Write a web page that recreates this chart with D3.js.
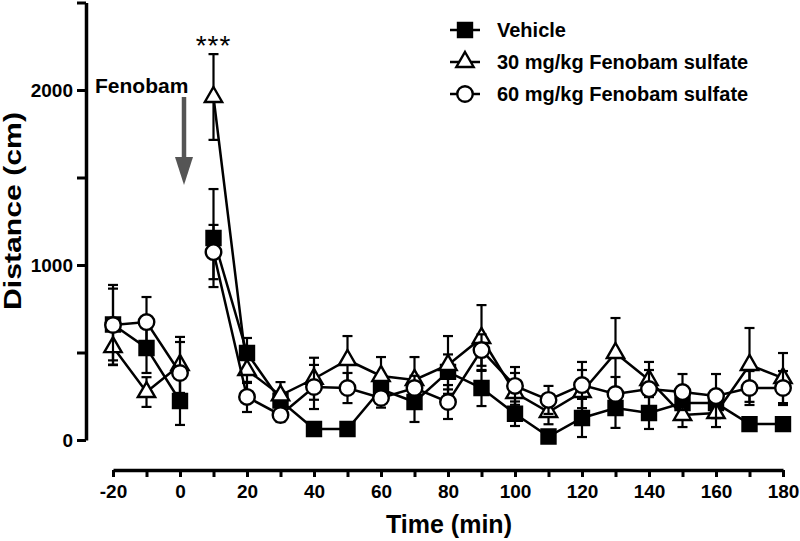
<!DOCTYPE html>
<html>
<head>
<meta charset="utf-8">
<script src="https://cdn.jsdelivr.net/npm/d3@7"></script>
<style>
  body { margin: 0; background: #fff; }
  svg text { font-family: "Liberation Sans", Arial, sans-serif; font-weight: bold; }
</style>
</head>
<body>
<div id="chart"></div>
<script>
// time points (min)
var times = [-20,-10,0,10,20,30,40,50,60,70,80,90,100,110,120,130,140,150,160,170,180];
var doseAt = 5; // lines are broken at the injection (between 0 and 10 min)

// mean distance (cm) and SEM per group
var vehicle    = [660,526,223,1154,497,225,63,63,290,217,389,297,150,20,126,183,154,211,211,91,91];
var vehicleSem = [205,143,137,280,86,50,15,15,70,114,100,103,70,15,109,114,91,60,60,20,25];
var feno30     = [531,274,429,1960,400,255,350,457,366,343,429,583,269,160,274,497,343,143,154,429,354];
var feno30Sem  = [100,85,160,245,74,76,120,137,108,131,165,188,114,70,126,200,57,69,80,211,143];
var feno60     = [657,674,383,1074,246,143,303,297,240,297,217,514,309,229,314,263,291,274,251,297,297];
var feno60Sem  = [229,143,177,155,86,40,126,86,55,70,97,90,108,80,132,97,155,103,126,97,97];

var seriesNames = ["Vehicle", "30 mg/kg Fenobam sulfate", "60 mg/kg Fenobam sulfate"];
var yTicks = [0,500,1000,1500,2000,2500];
var yLabels = [0,1000,2000];
var xTicks = d3.range(-20, 181, 10);
var xLabels = d3.range(-20, 181, 20);

var W = 800, H = 541;
var svg = d3.select("#chart").append("svg")
    .attr("width", W)
    .attr("height", H);

var x = d3.scaleLinear().domain([-20, 180]).range([113, 783]);
var y = d3.scaleLinear().domain([0, 2500]).range([440, 2.5]);

// y axis
var yAxis = svg.append("g")
    .attr("transform", "translate(86,0)")
    .call(d3.axisLeft(y).tickValues(yTicks).tickSize(9).tickSizeOuter(0).tickPadding(4)
      .tickFormat(function(d){ return yLabels.indexOf(d) >= 0 ? d : ""; }));
yAxis.select(".domain").attr("stroke-width", 3.5);
yAxis.selectAll(".tick line").attr("stroke-width", 3);
yAxis.selectAll("text").style("font-size", "19px").attr("fill", "#000");

// x axis (offset below)
var xAxis = svg.append("g")
    .attr("transform", "translate(0,470)")
    .call(d3.axisBottom(x).tickValues(xTicks).tickSize(7).tickSizeOuter(0).tickPadding(8)
      .tickFormat(function(d){ return xLabels.indexOf(d) >= 0 ? d : ""; }));
xAxis.select(".domain").attr("stroke-width", 3.5);
xAxis.selectAll(".tick line").attr("stroke-width", 3);
xAxis.selectAll("text").style("font-size", "19px").attr("fill", "#000");

// axis titles
svg.append("text")
    .attr("x", 449).attr("y", 533)
    .attr("text-anchor", "middle")
    .style("font-size", "25px")
    .text("Time (min)");

svg.append("text")
    .attr("transform", "translate(21,211) rotate(-90)")
    .attr("text-anchor", "middle")
    .attr("textLength", 198)
    .attr("lengthAdjust", "spacingAndGlyphs")
    .style("font-size", "23px")
    .text("Distance (cm)");

var groups = [
  {name: seriesNames[0], mean: vehicle, sem: vehicleSem, shape: d3.symbolSquare, size: 196, fill: "#000"},
  {name: seriesNames[1], mean: feno30, sem: feno30Sem, shape: d3.symbolTriangle, size: 130, fill: "#fff"},
  {name: seriesNames[2], mean: feno60, sem: feno60Sem, shape: d3.symbolCircle, size: 190, fill: "#fff"}
];

var line = d3.line()
    .x(function(d){ return x(d.t); })
    .y(function(d){ return y(d.v); });

groups.forEach(function(g){
  var pts = times.map(function(t, i){ return {t: t, v: g.mean[i], e: g.sem[i]}; });
  var segments = [
    pts.filter(function(d){ return d.t < doseAt; }),
    pts.filter(function(d){ return d.t > doseAt; })
  ];
  var layer = svg.append("g");

  // error bars
  var eb = layer.selectAll(".eb").data(pts).enter().append("g")
      .attr("stroke", "#000").attr("stroke-width", 2.2);
  eb.append("line")
    .attr("x1", function(d){ return x(d.t); })
    .attr("x2", function(d){ return x(d.t); })
    .attr("y1", function(d){ return y(d.v + d.e); })
    .attr("y2", function(d){ return y(d.v - d.e); });
  eb.append("line")
    .attr("x1", function(d){ return x(d.t) - 5; })
    .attr("x2", function(d){ return x(d.t) + 5; })
    .attr("y1", function(d){ return y(d.v + d.e); })
    .attr("y2", function(d){ return y(d.v + d.e); });
  eb.append("line")
    .attr("x1", function(d){ return x(d.t) - 5; })
    .attr("x2", function(d){ return x(d.t) + 5; })
    .attr("y1", function(d){ return y(d.v - d.e); })
    .attr("y2", function(d){ return y(d.v - d.e); });

  layer.selectAll(".seg").data(segments).enter().append("path")
    .attr("d", line)
    .attr("fill", "none")
    .attr("stroke", "#000")
    .attr("stroke-width", 2.5);

  layer.selectAll(".pt").data(pts).enter().append("path")
    .attr("d", d3.symbol().type(g.shape).size(g.size))
    .attr("transform", function(d){ return "translate(" + x(d.t) + "," + y(d.v) + ")"; })
    .attr("fill", g.fill)
    .attr("stroke", "#000")
    .attr("stroke-width", 2.4);
});

// legend
var legend = svg.append("g");
groups.forEach(function(g, i){
  var ly = 30 + i * 32;
  legend.append("line")
    .attr("x1", 450).attr("x2", 480).attr("y1", ly).attr("y2", ly)
    .attr("stroke", "#000").attr("stroke-width", 2.5);
  legend.append("path")
    .attr("d", d3.symbol().type(g.shape).size(g.size))
    .attr("transform", "translate(465," + ly + ")")
    .attr("fill", g.fill).attr("stroke", "#000").attr("stroke-width", 2.4);
  legend.append("text")
    .attr("x", 497).attr("y", ly + 7)
    .style("font-size", "20px")
    .text(g.name);
});

// annotations
svg.append("text")
    .attr("x", x(10)).attr("y", 55)
    .attr("text-anchor", "middle")
    .style("font-size", "28px")
    .style("font-weight", "normal")
    .style("letter-spacing", "1px")
    .text("***");

svg.append("text")
    .attr("x", 95).attr("y", 93)
    .style("font-size", "21px")
    .text("Fenobam");

var ax = x(0) + 4;
svg.append("line")
    .attr("x1", ax).attr("x2", ax).attr("y1", 97).attr("y2", 160)
    .attr("stroke", "#555").attr("stroke-width", 4.5);
svg.append("path")
    .attr("d", "M" + (ax - 9) + ",157 L" + (ax + 9) + ",157 L" + ax + ",185 Z")
    .attr("fill", "#555");
</script>
</body>
</html>
